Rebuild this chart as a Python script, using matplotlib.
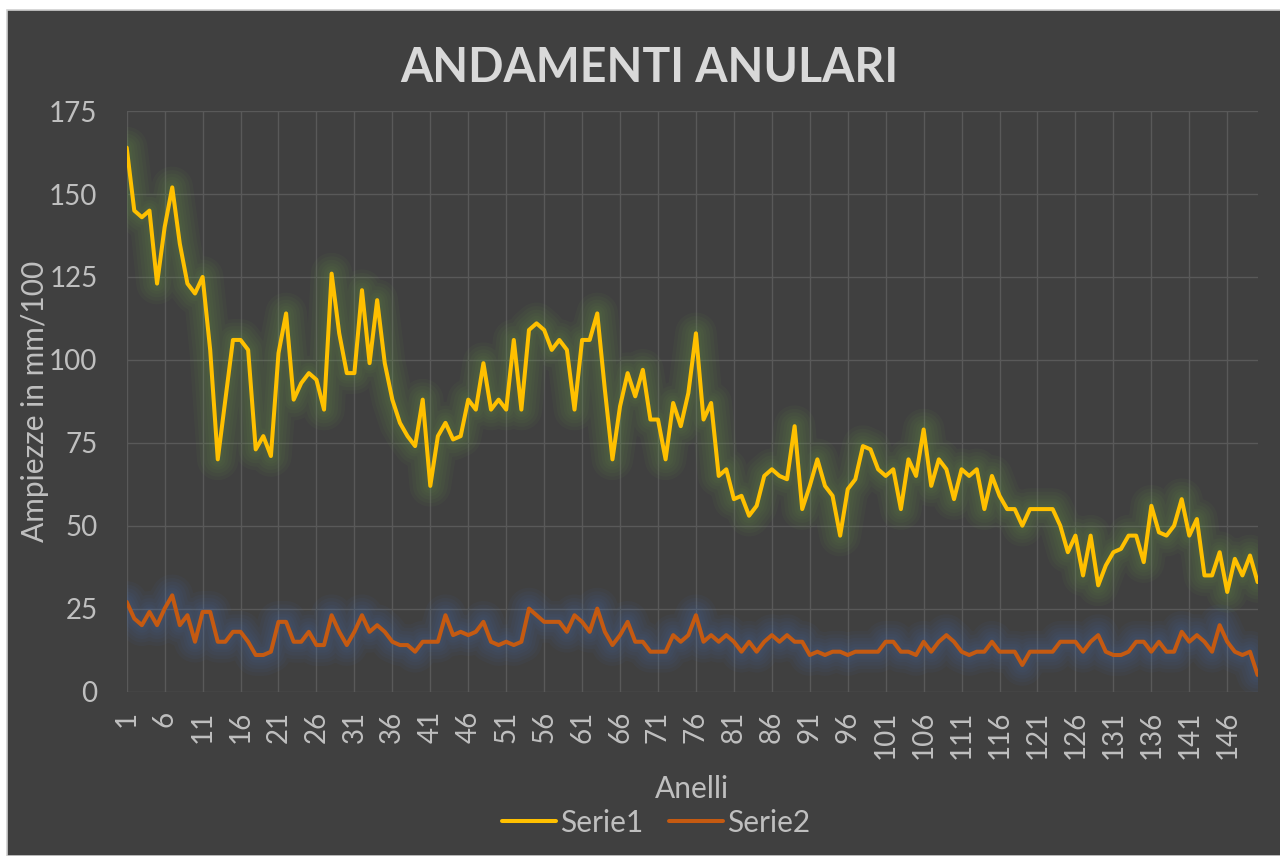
import matplotlib
matplotlib.use("Agg")
import matplotlib.pyplot as plt
import matplotlib.patheffects as pe
from matplotlib.patches import Rectangle

plt.rcParams["font.family"] = ["Lato", "DejaVu Sans"]

# ring widths (mm/100)
serie1 = [164, 145, 143, 145, 123, 140, 152, 135, 123, 120,
          125, 103, 70, 88, 106, 106, 103, 73, 77, 71,
          102, 114, 88, 93, 96, 94, 85, 126, 108, 96,
          96, 121, 99, 118, 99, 88, 81, 77, 74, 88,
          62, 77, 81, 76, 77, 88, 85, 99, 85, 88,
          85, 106, 85, 109, 111, 109, 103, 106, 103, 85,
          106, 106, 114, 91, 70, 86, 96, 89, 97, 82,
          82, 70, 87, 80, 90, 108, 82, 87, 65, 67,
          58, 59, 53, 56, 65, 67, 65, 64, 80, 55,
          62, 70, 62, 59, 47, 61, 64, 74, 73, 67,
          65, 67, 55, 70, 65, 79, 62, 70, 67, 58,
          67, 65, 67, 55, 65, 59, 55, 55, 50, 55,
          55, 55, 55, 50, 42, 47, 35, 47, 32, 38,
          42, 43, 47, 47, 39, 56, 48, 47, 50, 58,
          47, 52, 35, 35, 42, 30, 40, 35, 41, 33]

serie2 = [27, 22, 20, 24, 20, 25, 29, 20, 23, 15,
          24, 24, 15, 15, 18, 18, 15, 11, 11, 12,
          21, 21, 15, 15, 18, 14, 14, 23, 18, 14,
          18, 23, 18, 20, 18, 15, 14, 14, 12, 15,
          15, 15, 23, 17, 18, 17, 18, 21, 15, 14,
          15, 14, 15, 25, 23, 21, 21, 21, 18, 23,
          21, 18, 25, 18, 14, 17, 21, 15, 15, 12,
          12, 12, 17, 15, 17, 23, 15, 17, 15, 17,
          15, 12, 15, 12, 15, 17, 15, 17, 15, 15,
          11, 12, 11, 12, 12, 11, 12, 12, 12, 12,
          15, 15, 12, 12, 11, 15, 12, 15, 17, 15,
          12, 11, 12, 12, 15, 12, 12, 12, 8, 12,
          12, 12, 12, 15, 15, 15, 12, 15, 17, 12,
          11, 11, 12, 15, 15, 12, 15, 12, 12, 18,
          15, 17, 15, 12, 20, 15, 12, 11, 12, 5]

anelli = list(range(1, len(serie1) + 1))
x_ticks = anelli[::5]
y_ticks = [0, 25, 50, 75, 100, 125, 150, 175]

BG = "#404040"
GRID = "#595959"
TXT = "#BFBFBF"


def glow(color):
    # soft halo like Excel's glow effect
    effects = []
    for w in (30, 25, 20, 15, 11, 7):
        effects.append(pe.Stroke(linewidth=w, foreground=color, alpha=0.05))
    effects.append(pe.Normal())
    return effects


fig = plt.figure(figsize=(12.8, 8.56), dpi=100, facecolor="white")
fig.patches.append(Rectangle((7 / 1280, 0), 1, 846 / 856, transform=fig.transFigure,
                             facecolor=BG, edgecolor="#D0D0D0", linewidth=1.2, zorder=-1))

ax = fig.add_axes([0.09898, 0.19217, 0.88352, 0.67804])
ax.set_facecolor("none")

ax.plot(anelli, serie1, color="#FFC000", linewidth=2.9, solid_joinstyle="round",
        solid_capstyle="round", label="Serie1", path_effects=glow("#70AD47"))
ax.plot(anelli, serie2, color="#C55A11", linewidth=2.9, solid_joinstyle="round",
        solid_capstyle="round", label="Serie2", path_effects=glow("#4472C4"))

ax.set_xlim(1, 150)
ax.set_ylim(0, 175)
ax.set_xticks(x_ticks)
ax.set_xticklabels([str(t) for t in x_ticks], rotation=90)
ax.set_yticks(y_ticks)
ax.grid(True, color=GRID, linewidth=1.0)
ax.set_axisbelow(True)
for s in ax.spines.values():
    s.set_visible(False)
ax.tick_params(axis="both", length=0, colors=TXT, labelsize=20)
ax.tick_params(axis="y", pad=21)
ax.tick_params(axis="x", pad=14)

ax.set_xlabel("Anelli", color=TXT, fontsize=21.5, va="baseline")
ax.xaxis.set_label_coords(0.5, (691.5 - 798.3) / 580.4)
ax.set_ylabel("Ampiezze in mm/100", color=TXT, fontsize=21.5, va="center")
ax.yaxis.set_label_coords(-0.0811, 0.5)

fig.text(649 / 1280, 1 - 82 / 856, "ANDAMENTI ANULARI", ha="center", va="baseline",
         fontsize=33.5, fontweight="bold", color="#D9D9D9")

leg = fig.legend(loc="center", bbox_to_anchor=(656 / 1280, 1 - 822.7 / 856), ncol=2,
                 frameon=False, fontsize=21.5, handlelength=1.8, handletextpad=0.13,
                 columnspacing=0.87)
for t in leg.get_texts():
    t.set_color(TXT)
for h in leg.get_lines():
    h.set_path_effects([])

fig.savefig("out.png", dpi=100, facecolor=fig.get_facecolor())
